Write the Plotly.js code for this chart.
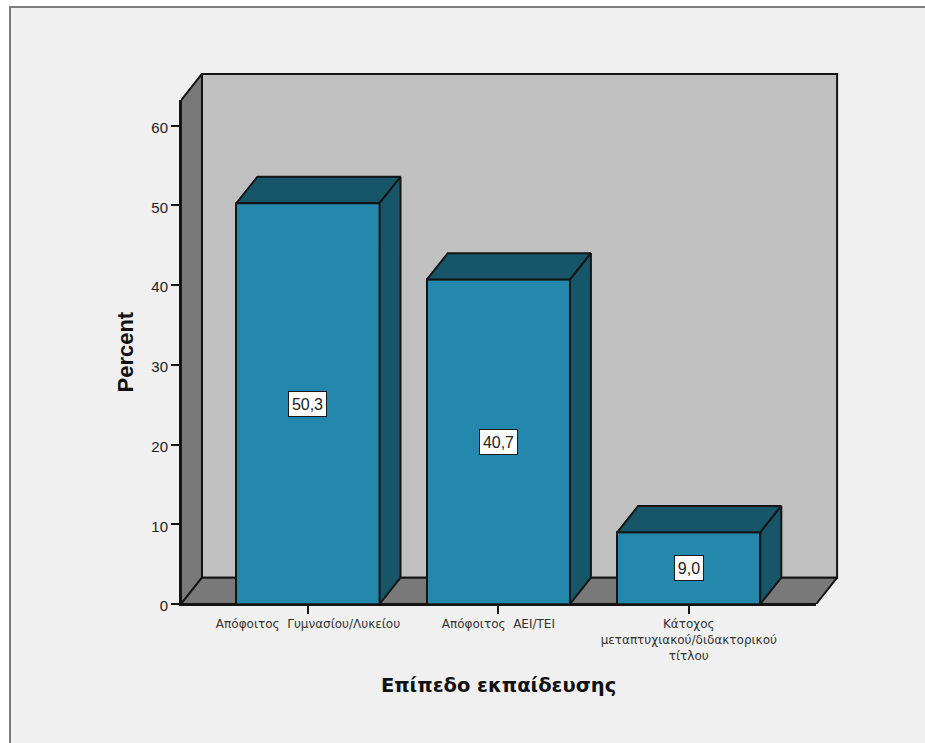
<!DOCTYPE html>
<html>
<head>
<meta charset="utf-8">
<script src="https://cdn.plot.ly/plotly-3.0.1.min.js"></script>
<style>
  html, body { margin: 0; padding: 0; background: #ffffff; overflow: hidden; }
  #frame { position: absolute; left: 9px; top: 6px; width: 916px; height: 737px;
           border-left: 2px solid #7c7c7c; border-top: 2px solid #7c7c7c; box-sizing: border-box; background: #f0f0f0; }
  #chart { width: 914px; height: 735px; }
</style>
</head>
<body>
<div id="frame"><div id="chart"></div></div>
<script>
// Education level distribution, percent of respondents
const categories = [
  "Απόφοιτος  Γυμνασίου/Λυκείου",
  "Απόφοιτος  ΑΕΙ/ΤΕΙ",
  "Κάτοχος<br>μεταπτυχιακού/διδακτορικού<br>τίτλου"
];
const percents = [50.3, 40.7, 9.0];
const positions = [0, 1, 2];
const yTicks = [0, 10, 20, 30, 40, 50, 60];

// Extent of the front plane and the pseudo-3D depth, in axis units
const xMin = -0.667, xMax = 2.669, yMax = 63.2;
const depthX = 0.11, depthY = 3.3;
const padX = 0.01, padY = 0.25;
const barWidth = 0.752;

const EDGE = "#141414";
const BAR_FRONT = "#2488ad", BAR_SHADE = "#175669";
const WALL_BACK = "#c0c0c0", WALL_SIDE = "#797979";

const xFull = xMax + depthX + padX, yFull = yMax + depthY + padY;

// Closed filled polygon in data coordinates
function face(xs, ys, color, xa, ya) {
  return {
    type: "scatter", mode: "lines", x: xs.concat(xs[0]), y: ys.concat(ys[0]),
    xaxis: xa, yaxis: ya,
    fill: "toself", fillcolor: color, line: { color: EDGE, width: 2 },
    hoverinfo: "skip", showlegend: false
  };
}

// Room walls live on the full-size hidden axes, beneath the front-plane subplot
const traces = [
  face([xMin + depthX, xMax + depthX, xMax + depthX, xMin + depthX],
       [depthY, depthY, yMax + depthY, yMax + depthY], WALL_BACK, "x", "y"),
  face([xMin, xMin + depthX, xMin + depthX, xMin],
       [0, depthY, yMax + depthY, yMax], WALL_SIDE, "x", "y"),
  face([xMin, xMax, xMax + depthX, xMin + depthX],
       [0, 0, depthY, depthY], WALL_SIDE, "x", "y")
];

// Top and right-hand faces of each bar
positions.forEach((p, i) => {
  const l = p - barWidth / 2, r = p + barWidth / 2, v = percents[i];
  traces.push(face([l, r, r + depthX, l + depthX], [v, v, v + depthY, v + depthY], BAR_SHADE, "x2", "y2"));
  traces.push(face([r, r + depthX, r + depthX, r], [0, depthY, v + depthY, v], BAR_SHADE, "x2", "y2"));
});

traces.push({
  type: "bar", x: positions, y: percents, width: barWidth, xaxis: "x2", yaxis: "y2",
  marker: { color: BAR_FRONT, line: { color: EDGE, width: 2 } },
  hoverinfo: "skip", showlegend: false
});

const valueLabels = positions.map((p, i) => ({
  x: p, y: percents[i] / 2, xref: "x2", yref: "y2",
  text: percents[i].toFixed(1).replace(".", ","),
  width: i === 2 ? 28 : 37, height: 24, valign: "middle",
  showarrow: false, bgcolor: "#ffffff", bordercolor: "#1a1a1a", borderwidth: 1, borderpad: 0,
  font: { family: "Liberation Sans", size: 16, color: "#222222" }
}));

const layout = {
  width: 914, height: 735,
  margin: { l: 170, r: 86, t: 64, b: 139 },
  paper_bgcolor: "#f0f0f0", plot_bgcolor: "rgba(0,0,0,0)",
  showlegend: false, hovermode: false, bargap: 0,
  xaxis: { visible: false, range: [xMin, xFull], domain: [0, 1], anchor: "y" },
  yaxis: { visible: false, range: [0, yFull], domain: [0, 1], anchor: "x" },
  xaxis2: {
    anchor: "y2", domain: [0, (xMax - xMin) / (xFull - xMin)],
    range: [xMin, xMax], tickmode: "array", tickvals: positions, ticktext: categories,
    ticks: "outside", ticklen: 8, tickwidth: 2, tickcolor: EDGE, tickangle: 0,
    showline: true, linecolor: EDGE, linewidth: 2, showgrid: false, zeroline: false,
    tickfont: { family: "DejaVu Sans", size: 12, color: "#333333" },
    title: { text: "Επίπεδο εκπαίδευσης", standoff: 17,
             font: { family: "DejaVu Sans", size: 19.5, color: "#111111", weight: "bold" } }
  },
  yaxis2: {
    anchor: "x2", domain: [0, yMax / yFull],
    range: [0, yMax], tickmode: "array", tickvals: yTicks, ticklabelshift: 2,
    ticks: "outside", ticklen: 8, tickwidth: 2, tickcolor: EDGE,
    showline: true, linecolor: EDGE, linewidth: 2, showgrid: false, zeroline: false,
    tickfont: { family: "Liberation Sans", size: 15, color: "#222222" },
    title: { text: "Percent", standoff: 12,
             font: { family: "Liberation Sans", size: 22, color: "#111111", weight: "bold" } }
  },
  annotations: valueLabels
};

Plotly.newPlot("chart", traces, layout, { displayModeBar: false, responsive: false });
</script>
</body>
</html>
